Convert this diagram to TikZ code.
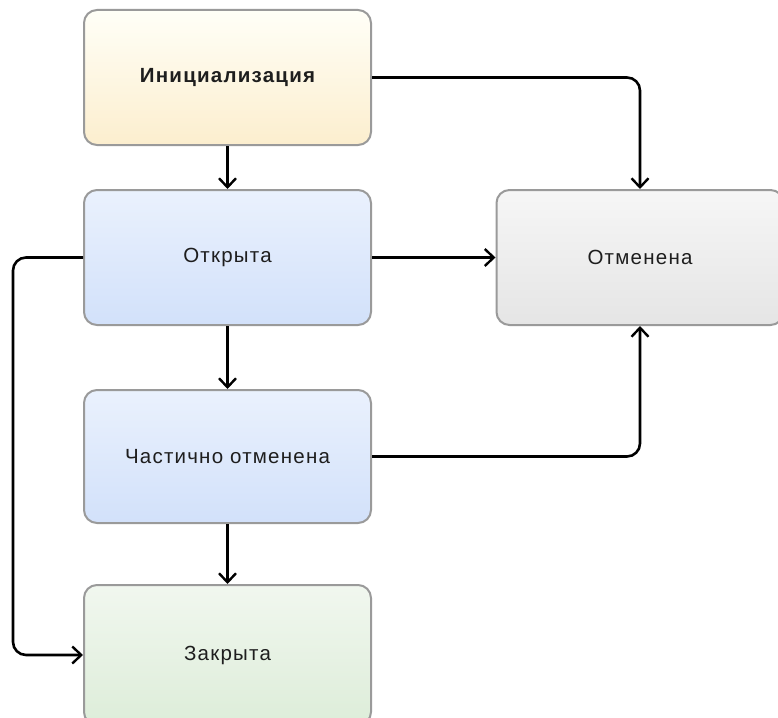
\documentclass[tikz,border=0pt]{standalone}
\usepackage{fontspec}
\setmainfont{Liberation Sans}[LetterSpace=6]
\usetikzlibrary{arrows.meta}
\definecolor{txt}{HTML}{1E1E1E}
\definecolor{bord}{HTML}{9A9A9A}
\tikzset{
  state/.style={draw=bord, line width=2pt, rounded corners=13pt,
    minimum width=287pt, minimum height=135pt, inner sep=0pt,
    text=txt, font=\fontsize{20.5}{24}\selectfont},
  yel/.style={top color=yellow!3!white, bottom color={rgb,255:red,252;green,238;blue,206}},
  blu/.style={top color={rgb,255:red,234;green,241;blue,253}, bottom color={rgb,255:red,210;green,225;blue,250}},
  grn/.style={top color={rgb,255:red,241;green,247;blue,239}, bottom color={rgb,255:red,221;green,237;blue,217}},
  gry/.style={top color={rgb,255:red,246;green,246;blue,246}, bottom color={rgb,255:red,229;green,229;blue,229}},
  conn/.style={draw=black, line width=2.6pt, rounded corners=13pt,
    -{Straight Barb[length=9pt, width=17pt, line width=2.4pt]}}
}
\begin{document}
\begin{tikzpicture}[x=1pt,y=-1pt]
\clip (0,0) rectangle (778,717);
\fill[white] (0,0) rectangle (778,717);
\node[state, yel, font=\fontsize{20.5}{24}\selectfont\bfseries] (init) at (227.5,77.5) {Инициализация};
\node[state, blu] (open) at (227.5,257.5) {Открыта};
\node[state, blu, minimum height=133pt] (part) at (227.5,456.5) {Частично отменена};
\node[state, grn, minimum height=140pt] (closed) at (227.5,655) {Закрыта};
\node[state, gry] (cancel) at (640,257.5) {Отменена};
\coordinate (lft) at (13,257.5);
\draw[conn] (init) -- (open);
\draw[conn] (open) -- (part);
\draw[conn] (part) -- (closed);
\draw[conn] (open) -- (cancel);
\draw[conn] (init.east) -| (cancel.north);
\draw[conn] (part.east) -| (cancel.south);
\draw[conn] (open.west) -- (lft) |- (closed.west);
\end{tikzpicture}
\end{document}
